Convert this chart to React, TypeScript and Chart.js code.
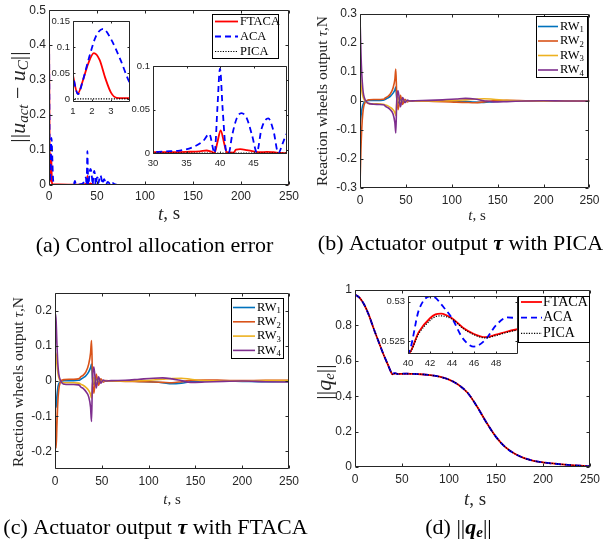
import React, { useEffect, useRef } from 'react';
import { Chart, registerables } from 'chart.js';

Chart.register(...registerables);

const W = 605;
const H = 542;
const SANS = '"Liberation Sans", Arial, Helvetica, sans-serif';
const SERIF = '"Liberation Serif", "Times New Roman", Times, serif';
const GREY = '#262626';

// ---------------- tick values ----------------
const timeTicks = [0, 50, 100, 150, 200, 250];
const errTicks = [0, 0.1, 0.2, 0.3, 0.4, 0.5];
const picaTorqueTicks = [-0.3, -0.2, -0.1, 0, 0.1, 0.2, 0.3];
const ftacaTorqueTicks = [-0.2, -0.1, 0, 0.1, 0.2];
const qTicks = [0, 0.2, 0.4, 0.6, 0.8, 1];
const zoom1TimeTicks = [1, 2, 3];
const zoom1ErrTicks = [0, 0.05, 0.1, 0.15];
const zoom2TimeTicks = [30, 35, 40, 45];
const zoom2ErrTicks = [0, 0.05, 0.1];
const zoomQTimeTicks = [40, 42, 44, 46, 48];
const zoomQTicks = [0.525, 0.53];

// ---------------- series labels ----------------
const methodLabels = ['FTACA', 'ACA', 'PICA'];
const wheelLabels = ['RW1', 'RW2', 'RW3', 'RW4'];

// ---------------- (a) control allocation error ----------------
const aTimeFtaca = [0, 0.3, 0.6, 1, 1.25, 1.5, 1.8, 2.1, 2.4, 2.7, 3.0, 3.3, 3.6, 10, 30, 35, 37, 38, 38.6, 39.2, 39.6, 40.1, 40.6, 41, 42, 42.4, 43, 44, 45, 46, 47, 48, 49, 50, 250];
const aFtaca = [0.49, 0.3, 0.13, 0.045, 0.01, 0.033, 0.068, 0.088, 0.075, 0.04, 0.012, 0.002, 0.0015, 0.0015, 0.001, 0.0015, 0.002, 0.003, 0.002, 0.0005, 0.012, 0.026, 0.012, 0.001, 0.0005, 0.004, 0.0045, 0.0035, 0.002, 0.001, 0.0015, 0.001, 0.0003, 0, 0];
const aTimeAca = [0, 0.3, 0.6, 1, 1.27, 1.5, 1.85, 2.2, 2.58, 3.0, 3.5, 4.0, 4.5, 5, 6, 25, 26.3, 27, 27.7, 29, 30, 32, 34, 36, 37.5, 38.4, 39.2, 39.6, 40, 40.4, 40.9, 41.3, 41.8, 42.5, 43.2, 44, 44.8, 45.5, 46.2, 47.2, 48, 48.7, 49.4, 50, 50.8, 51.5, 52.5, 53.5, 54.5, 55.5, 56.5, 57.5, 58.5, 59.5, 61, 62.5, 64, 66, 68, 70, 72, 250];
const aAca = [0.49, 0.3, 0.13, 0.045, 0.009, 0.033, 0.08, 0.12, 0.135, 0.115, 0.075, 0.03, 0.008, 0.001, 0, 0, 0.006, 0.012, 0.004, 0, 0.001, 0.002, 0.003, 0.007, 0.014, 0.022, 0, 0.05, 0.097, 0.05, 0.003, 0, 0.02, 0.04, 0.046, 0.04, 0.02, 0.001, 0.028, 0.04, 0.025, 0, 0.012, 0.022, 0.02, 0.005, 0.018, 0.028, 0.02, 0.003, 0.012, 0.017, 0.01, 0.001, 0.009, 0.006, 0, 0.006, 0.003, 0.001, 0, 0];
const aTimePica = [0, 250];
const aPica = [0, 0];

// ---------------- (b) actuator output with PICA ----------------
const bTime = [0, 1, 2, 3, 4, 6, 8, 10, 15, 20, 25, 26.5, 27.5, 30, 33, 36, 38, 39, 40, 41.5, 44, 46.5, 49, 51.5, 54, 60, 75, 90, 105, 115, 125, 135, 145, 160, 180, 200, 225, 250];
const bRw1 = [-0.09, -0.055, -0.03, -0.015, -0.007, -0.001, 0.001, 0.002, 0.002, 0.002, 0.003, 0.004, 0.006, 0.01, 0.016, 0.027, 0.038, 0.048, 0.01, -0.008, 0.006, -0.003, 0.002, -0.001, 0, 0.001, 0.001, 0, -0.001, -0.002, -0.004, -0.005, -0.002, 0, 0.001, 0, -0.001, 0];
const bRw2 = [-0.29, -0.17, -0.09, -0.045, -0.02, -0.003, 0.003, 0.004, 0.005, 0.005, 0.006, 0.007, 0.011, 0.015, 0.024, 0.045, 0.075, 0.11, 0.02, -0.03, 0.02, -0.012, 0.006, -0.003, 0.001, 0, -0.001, -0.002, -0.004, -0.005, -0.006, -0.003, 0.001, 0.002, 0.001, 0, 0, -0.001];
const bRw3 = [0.1, 0.06, 0.035, 0.018, 0.008, -0.002, -0.007, -0.009, -0.01, -0.01, -0.011, -0.012, -0.014, -0.016, -0.022, -0.03, -0.04, -0.05, -0.01, 0.012, -0.008, 0.005, -0.002, 0.001, 0, 0, 0, 0.001, 0.002, 0.004, 0.006, 0.008, 0.006, 0.002, 0, -0.001, 0, 0.001];
const bRw4 = [0.29, 0.17, 0.09, 0.045, 0.02, 0.002, -0.006, -0.009, -0.011, -0.012, -0.013, -0.014, -0.018, -0.022, -0.03, -0.045, -0.075, -0.11, 0, 0.035, -0.02, 0.012, -0.006, 0.003, 0, 0.001, 0.002, 0.004, 0.007, 0.009, 0.007, 0.001, -0.003, -0.002, 0, 0.001, 0, 0];

// ---------------- (c) actuator output with FTACA ----------------
const cTime = [0, 0.6, 1.2, 2, 3, 4, 6, 8, 10, 15, 20, 25, 26.5, 27.5, 30, 33, 36, 38, 39, 40, 41.5, 44, 46.5, 49, 51.5, 54, 60, 75, 90, 105, 115, 125, 135, 145, 160, 180, 200, 225, 250];
const cRw1 = [0, -0.06, -0.075, -0.05, -0.02, -0.008, -0.002, 0, 0.001, 0.001, 0.001, 0.002, 0.003, 0.005, 0.009, 0.015, 0.026, 0.038, 0.048, 0.008, -0.01, 0.006, -0.003, 0.002, -0.001, 0, 0, 0, -0.001, -0.003, -0.005, -0.008, -0.006, -0.002, 0, 0, -0.001, -0.002, -0.001];
const cRw2 = [0, -0.15, -0.19, -0.13, -0.06, -0.025, -0.002, 0.003, 0.004, 0.005, 0.005, 0.006, 0.008, 0.012, 0.016, 0.026, 0.048, 0.08, 0.115, 0.02, -0.035, 0.02, -0.012, 0.006, -0.003, 0.001, 0, -0.001, -0.002, -0.003, -0.004, -0.005, -0.002, 0.002, 0.003, 0.002, 0.001, 0.002, 0.002];
const cRw3 = [0, 0.08, 0.075, 0.05, 0.025, 0.01, -0.001, -0.004, -0.005, -0.005, -0.005, -0.006, -0.007, -0.009, -0.012, -0.018, -0.027, -0.038, -0.048, -0.01, 0.01, -0.007, 0.004, -0.002, 0.001, 0, 0, 0, 0.001, 0.003, 0.005, 0.007, 0.008, 0.005, 0.001, 0, 0, 0.001, 0.001];
const cRw4 = [0, 0.19, 0.17, 0.11, 0.05, 0.02, 0.001, -0.007, -0.009, -0.01, -0.01, -0.011, -0.013, -0.017, -0.021, -0.03, -0.045, -0.075, -0.115, 0, 0.04, -0.02, 0.012, -0.006, 0.003, 0, 0.001, 0.002, 0.005, 0.008, 0.009, 0.006, 0.001, -0.004, -0.003, -0.001, 0, -0.002, -0.003];

// ---------------- (d) attitude error norm ----------------
const dTime = [0, 5, 10, 15, 20, 25, 30, 35, 38, 40, 41, 42, 42.5, 43, 44, 45, 46, 47, 48, 49, 50, 55, 60, 70, 80, 90, 100, 110, 120, 130, 140, 150, 160, 170, 180, 190, 200, 210, 220, 230, 240, 250];
const dFtaca = [0.975, 0.955, 0.915, 0.855, 0.78, 0.71, 0.64, 0.578, 0.54, 0.5233, 0.5262, 0.5279, 0.5284, 0.5285, 0.5279, 0.5267, 0.5259, 0.5255, 0.5258, 0.5262, 0.5265, 0.5268, 0.5262, 0.524, 0.519, 0.51, 0.494, 0.465, 0.418, 0.34, 0.25, 0.17, 0.112, 0.075, 0.05, 0.035, 0.026, 0.02, 0.015, 0.011, 0.007, 0.004];
const dAca = [0.975, 0.955, 0.915, 0.855, 0.78, 0.71, 0.64, 0.578, 0.54, 0.5235, 0.529, 0.5307, 0.5305, 0.5297, 0.5279, 0.5253, 0.5243, 0.5251, 0.527, 0.528, 0.5279, 0.527, 0.5262, 0.524, 0.519, 0.51, 0.494, 0.465, 0.418, 0.34, 0.25, 0.17, 0.112, 0.075, 0.05, 0.035, 0.026, 0.02, 0.015, 0.011, 0.007, 0.004];
const dPica = [0.975, 0.955, 0.915, 0.855, 0.78, 0.71, 0.64, 0.578, 0.54, 0.5233, 0.526, 0.5276, 0.5281, 0.5282, 0.5278, 0.5266, 0.5258, 0.5254, 0.5257, 0.5261, 0.5264, 0.5267, 0.5262, 0.524, 0.519, 0.51, 0.494, 0.465, 0.418, 0.34, 0.25, 0.17, 0.112, 0.075, 0.05, 0.035, 0.026, 0.02, 0.015, 0.011, 0.007, 0.004];

// ---------------- styles ----------------
const METHOD_COLORS = ['#ff0000', '#0000ff', '#000000'];
const METHOD_WIDTHS = [1.8, 1.8, 1.2];
const METHOD_DASHES: number[][] = [[], [6, 4], [1.2, 1.4]];
const WHEEL_COLORS = ['#0072BD', '#D95319', '#EDB120', '#7E2F8E'];

type Seg = { t: string; f: string; dy?: number };
type TextItem = { x: number; y: number; rot?: boolean; color?: string; segs: Seg[] };
type LegendCfg = { x: number; y: number; w: number; h: number; row0: number; step: number; x0: number; x1: number; tx: number; size: number };

const serif = (size: number, style = '') => `${style} ${size}px ${SERIF}`.trim();

const pts = (t: number[], v: number[]) => t.map((x, i) => ({ x, y: v[i] }));

function lineDs(label: string, t: number[], v: number[], color: string, width: number, dash: number[], order: number) {
  return {
    label,
    data: pts(t, v),
    borderColor: color,
    backgroundColor: color,
    borderWidth: width,
    borderDash: dash,
    pointRadius: 0,
    pointHoverRadius: 0,
    cubicInterpolationMode: 'monotone',
    fill: false,
    order,
    clip: 0,
  };
}

function methodSets(times: number[][], values: number[][]) {
  return methodLabels.map((lab, i) => lineDs(lab, times[i], values[i], METHOD_COLORS[i], METHOD_WIDTHS[i], METHOD_DASHES[i], 3 - i));
}

function wheelSets(t: number[], values: number[][]) {
  return wheelLabels.map((lab, i) => lineDs(lab, t, values[i], WHEEL_COLORS[i], 1.6, [], 4 - i));
}

function fmt(v: number) {
  return String(Math.round(v * 100000) / 100000);
}

function axis(kind: 'x' | 'y', range: [number, number], ticks: number[], size: number, pad: number, thick: number) {
  return {
    type: 'linear',
    position: kind === 'x' ? 'bottom' : 'left',
    min: range[0],
    max: range[1],
    grid: { display: false, drawTicks: false },
    border: { display: false },
    ticks: {
      font: { family: SANS, size },
      color: GREY,
      padding: pad,
      autoSkip: false,
      maxRotation: 0,
      minRotation: 0,
      callback: (v: any) => fmt(Number(v)),
    },
    afterBuildTicks: (s: any) => {
      s.ticks = ticks.map((value) => ({ value }));
    },
    afterFit: (s: any) => {
      if (kind === 'x') s.height = thick;
      else s.width = thick;
    },
  };
}

function framePlugin(tickLen: number, fillWhite: boolean) {
  return {
    id: 'frame',
    beforeDraw(chart: any) {
      if (!fillWhite) return;
      const { ctx, chartArea: a } = chart;
      ctx.save();
      ctx.fillStyle = '#ffffff';
      ctx.fillRect(a.left, a.top, a.right - a.left, a.bottom - a.top);
      ctx.restore();
    },
    afterDatasetsDraw(chart: any) {
      const { ctx, chartArea: a, scales } = chart;
      const l = Math.round(a.left) + 0.5;
      const r = Math.round(a.right) - 0.5;
      const t = Math.round(a.top) + 0.5;
      const b = Math.round(a.bottom) - 0.5;
      ctx.save();
      ctx.strokeStyle = GREY;
      ctx.lineWidth = 1;
      ctx.setLineDash([]);
      ctx.beginPath();
      for (const tk of scales.x.ticks) {
        const px = Math.round(scales.x.getPixelForValue(tk.value)) + 0.5;
        ctx.moveTo(px, b);
        ctx.lineTo(px, b - tickLen);
        ctx.moveTo(px, t);
        ctx.lineTo(px, t + tickLen);
      }
      for (const tk of scales.y.ticks) {
        const py = Math.round(scales.y.getPixelForValue(tk.value)) + 0.5;
        ctx.moveTo(l, py);
        ctx.lineTo(l + tickLen, py);
        ctx.moveTo(r, py);
        ctx.lineTo(r - tickLen, py);
      }
      ctx.rect(l, t, r - l, b - t);
      ctx.stroke();
      ctx.restore();
    },
  };
}

function legendPlugin(cfg: LegendCfg) {
  return {
    id: 'mlegend',
    afterDraw(chart: any) {
      const ctx = chart.ctx;
      ctx.save();
      ctx.fillStyle = '#ffffff';
      ctx.fillRect(cfg.x, cfg.y, cfg.w, cfg.h);
      ctx.strokeStyle = '#000000';
      ctx.lineWidth = 1;
      ctx.setLineDash([]);
      ctx.strokeRect(cfg.x + 0.5, cfg.y + 0.5, cfg.w, cfg.h);
      chart.data.datasets.forEach((ds: any, i: number) => {
        const yy = cfg.row0 + i * cfg.step;
        ctx.strokeStyle = ds.borderColor;
        ctx.lineWidth = ds.borderWidth;
        ctx.setLineDash(ds.borderDash || []);
        ctx.beginPath();
        ctx.moveTo(cfg.x0, yy);
        ctx.lineTo(cfg.x1, yy);
        ctx.stroke();
        ctx.setLineDash([]);
        ctx.fillStyle = '#000000';
        ctx.textAlign = 'left';
        ctx.textBaseline = 'middle';
        const m = /^(.*?)(\d+)$/.exec(ds.label);
        ctx.font = serif(cfg.size);
        if (m) {
          ctx.fillText(m[1], cfg.tx, yy);
          const w = ctx.measureText(m[1]).width;
          ctx.font = serif(cfg.size * 0.7);
          ctx.fillText(m[2], cfg.tx + w, yy + cfg.size * 0.28);
        } else {
          ctx.fillText(ds.label, cfg.tx, yy);
        }
      });
      ctx.restore();
    },
  };
}

function drawRich(ctx: CanvasRenderingContext2D, item: TextItem) {
  ctx.save();
  ctx.translate(item.x, item.y);
  if (item.rot) ctx.rotate(-Math.PI / 2);
  ctx.textBaseline = 'middle';
  ctx.textAlign = 'left';
  ctx.fillStyle = item.color || '#000000';
  const widths = item.segs.map((s) => {
    ctx.font = s.f;
    return ctx.measureText(s.t).width;
  });
  const total = widths.reduce((a, b) => a + b, 0);
  let cx = -total / 2;
  item.segs.forEach((s, i) => {
    ctx.font = s.f;
    ctx.fillText(s.t, cx, s.dy || 0);
    cx += widths[i];
  });
  ctx.restore();
}

function textPlugin(items: TextItem[]) {
  return {
    id: 'richtext',
    afterDraw(chart: any) {
      items.forEach((it) => drawRich(chart.ctx, it));
    },
  };
}

type PanelCfg = {
  area: [number, number, number, number];
  xr: [number, number];
  yr: [number, number];
  xt: number[];
  yt: number[];
  font: number;
  xPad: number;
  yPad: number;
  datasets: any[];
  tickLen: number;
  fill: boolean;
  legend?: LegendCfg;
  texts?: TextItem[];
};

function buildConfig(p: PanelCfg): any {
  const [L, T, R, B] = p.area;
  const yW = 40;
  const xH = 22;
  const plugins: any[] = [framePlugin(p.tickLen, p.fill)];
  if (p.legend) plugins.push(legendPlugin(p.legend));
  if (p.texts) plugins.push(textPlugin(p.texts));
  return {
    type: 'line',
    data: { datasets: p.datasets },
    options: {
      responsive: false,
      maintainAspectRatio: false,
      animation: false,
      devicePixelRatio: 1,
      events: [],
      layout: { padding: { left: L - yW, top: T, right: W - R, bottom: H - B - xH } },
      scales: {
        x: axis('x', p.xr, p.xt, p.font, p.xPad, xH),
        y: axis('y', p.yr, p.yt, p.font, p.yPad, yW),
      },
      plugins: { legend: { display: false }, tooltip: { enabled: false } },
    },
    plugins,
  };
}

const tTitle = (x: number, y: number, size: number): TextItem => ({
  x,
  y,
  color: GREY,
  segs: [
    { t: 't', f: serif(size, 'italic') },
    { t: ', s', f: serif(size) },
  ],
});

const torqueTitle = (x: number, y: number, size: number): TextItem => ({
  x,
  y,
  rot: true,
  color: GREY,
  segs: [
    { t: 'Reaction wheels output ', f: serif(size) },
    { t: 'τ', f: serif(size, 'italic') },
    { t: ',N', f: serif(size) },
  ],
});

function allConfigs(): any[] {
  const aTimes = [aTimeFtaca, aTimeAca, aTimePica];
  const aVals = [aFtaca, aAca, aPica];
  const dTimes = [dTime, dTime, dTime];
  const dVals = [dFtaca, dAca, dPica];
  const bVals = [bRw1, bRw2, bRw3, bRw4];
  const cVals = [cRw1, cRw2, cRw3, cRw4];

  const panelA = buildConfig({
    area: [49, 7, 289, 185],
    xr: [0, 250],
    yr: [0, 0.5],
    xt: timeTicks,
    yt: errTicks,
    font: 12,
    xPad: 4.5,
    yPad: 3,
    datasets: methodSets(aTimes, aVals),
    tickLen: 3,
    fill: false,
    legend: { x: 212, y: 14, w: 66, h: 44, row0: 21.5, step: 15, x0: 215, x1: 238, tx: 240, size: 12.5 },
    texts: [
      tTitle(169, 214.5, 19),
      {
        x: 19,
        y: 97,
        rot: true,
        color: GREY,
        segs: [
          { t: '||', f: serif(22) },
          { t: 'u', f: serif(22, 'italic') },
          { t: 'act', f: serif(15, 'italic'), dy: 5 },
          { t: ' − ', f: serif(22) },
          { t: 'u', f: serif(22, 'italic') },
          { t: 'C', f: serif(15, 'italic'), dy: 5 },
          { t: '||', f: serif(22) },
        ],
      },
      { x: 154.5, y: 246.5, segs: [{ t: '(a) Control allocation error', f: serif(22) }] },
    ],
  });

  const insetA1 = buildConfig({
    area: [73, 21, 130, 102],
    xr: [1, 4],
    yr: [-0.006, 0.15],
    xt: zoom1TimeTicks,
    yt: zoom1ErrTicks,
    font: 9.5,
    xPad: 4,
    yPad: 3,
    datasets: methodSets(aTimes, aVals),
    tickLen: 2,
    fill: true,
  });

  const insetA2 = buildConfig({
    area: [153, 66, 287, 154],
    xr: [30, 50],
    yr: [-0.001, 0.1],
    xt: zoom2TimeTicks,
    yt: zoom2ErrTicks,
    font: 9.5,
    xPad: 4,
    yPad: 3,
    datasets: methodSets(aTimes, aVals),
    tickLen: 2,
    fill: true,
  });

  const panelB = buildConfig({
    area: [360, 14, 594, 188],
    xr: [0, 250],
    yr: [-0.3, 0.3],
    xt: timeTicks,
    yt: picaTorqueTicks,
    font: 12,
    xPad: 5.5,
    yPad: 3,
    datasets: wheelSets(bTime, bVals),
    tickLen: 3,
    fill: false,
    legend: { x: 536, y: 16, w: 51, h: 61, row0: 26.5, step: 14.5, x0: 538, x1: 558, tx: 560, size: 12.5 },
    texts: [
      tTitle(477, 216.5, 15),
      torqueTitle(322.5, 101, 15.5),
      {
        x: 460.5,
        y: 244,
        segs: [
          { t: '(b) Actuator output ', f: serif(22) },
          { t: 'τ', f: serif(22, 'bold italic') },
          { t: ' with PICA', f: serif(22) },
        ],
      },
    ],
  });

  const panelC = buildConfig({
    area: [55, 293, 289, 469],
    xr: [0, 250],
    yr: [-0.25, 0.25],
    xt: timeTicks,
    yt: ftacaTorqueTicks,
    font: 12,
    xPad: 5.5,
    yPad: 3,
    datasets: wheelSets(cTime, cVals),
    tickLen: 3,
    fill: false,
    legend: { x: 231, y: 298, w: 52, h: 60, row0: 307.5, step: 14.3, x0: 233, x1: 255, tx: 257, size: 12.5 },
    texts: [
      tTitle(172, 500, 15),
      torqueTitle(18.5, 382, 15.5),
      {
        x: 155.5,
        y: 528,
        segs: [
          { t: '(c) Actuator output ', f: serif(22) },
          { t: 'τ', f: serif(22, 'bold italic') },
          { t: ' with FTACA', f: serif(22) },
        ],
      },
    ],
  });

  const panelD = buildConfig({
    area: [355, 290, 595, 467],
    xr: [0, 250],
    yr: [0, 1],
    xt: timeTicks,
    yt: qTicks,
    font: 12,
    xPad: 5,
    yPad: 3,
    datasets: methodSets(dTimes, dVals),
    tickLen: 3,
    fill: false,
    texts: [
      tTitle(475, 500, 19),
      {
        x: 325,
        y: 382,
        rot: true,
        color: GREY,
        segs: [
          { t: '||', f: serif(22) },
          { t: 'q', f: serif(22, 'italic') },
          { t: 'e', f: serif(15, 'italic'), dy: 5 },
          { t: '||', f: serif(22) },
        ],
      },
      {
        x: 458.5,
        y: 528,
        segs: [
          { t: '(d) ||', f: serif(22) },
          { t: 'q', f: serif(22, 'bold italic') },
          { t: 'e', f: serif(15, 'bold italic'), dy: 5 },
          { t: '||', f: serif(22) },
        ],
      },
    ],
  });

  const insetD = buildConfig({
    area: [408, 296, 518, 354],
    xr: [40, 50],
    yr: [0.52335, 0.53073],
    xt: zoomQTimeTicks,
    yt: zoomQTicks,
    font: 9.5,
    xPad: 4,
    yPad: 3,
    datasets: methodSets(dTimes, dVals),
    tickLen: 2,
    fill: true,
    legend: { x: 518, y: 296, w: 71, h: 46, row0: 302, step: 15.7, x0: 521, x1: 542, tx: 543, size: 14 },
  });

  return [panelA, insetA1, insetA2, panelB, panelC, panelD, insetD];
}

export default function App() {
  const refs = useRef<(HTMLCanvasElement | null)[]>([]);
  useEffect(() => {
    const configs = allConfigs();
    const charts = configs.map((cfg, i) => new Chart(refs.current[i] as HTMLCanvasElement, cfg));
    return () => charts.forEach((c) => c.destroy());
  }, []);
  return (
    <div style={{ position: 'fixed', left: 0, top: 0, width: W, height: H, background: '#ffffff', overflow: 'hidden' }}>
      {Array.from({ length: 7 }).map((_, i) => (
        <canvas
          key={i}
          ref={(el) => {
            refs.current[i] = el;
          }}
          width={W}
          height={H}
          style={{ position: 'absolute', left: 0, top: 0, width: W, height: H }}
        />
      ))}
    </div>
  );
}
